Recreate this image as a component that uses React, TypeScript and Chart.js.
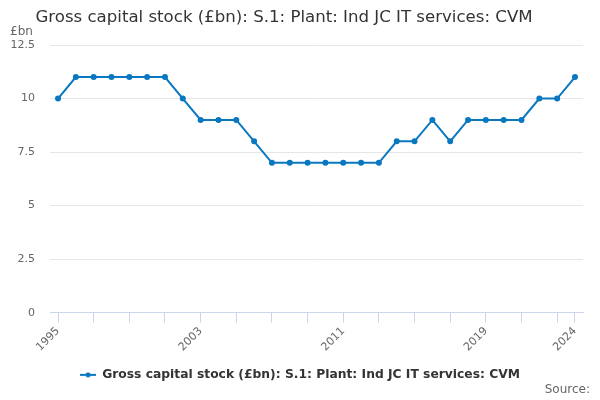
import React, { useEffect, useRef } from 'react';
import { Chart, registerables, Plugin } from 'chart.js';

Chart.register(...registerables);

// Datos del gráfico
const years = [
  1995, 1996, 1997, 1998, 1999, 2000, 2001, 2002, 2003, 2004,
  2005, 2006, 2007, 2008, 2009, 2010, 2011, 2012, 2013, 2014,
  2015, 2016, 2017, 2018, 2019, 2020, 2021, 2022, 2023, 2024,
];
const stockValues = [
  10, 11, 11, 11, 11, 11, 11, 10, 9, 9,
  9, 8, 7, 7, 7, 7, 7, 7, 7, 8,
  8, 9, 8, 9, 9, 9, 9, 10, 10, 11,
];
const tickYears = [1995, 1997, 1999, 2001, 2003, 2005, 2007, 2009, 2011, 2013, 2015, 2017, 2019, 2021, 2023, 2024];
const labelYears = [1995, 2003, 2011, 2019, 2024];
const yTicks = [0, 2.5, 5, 7.5, 10, 12.5];

const seriesName = 'Gross capital stock (£bn): S.1: Plant: Ind JC IT services: CVM';
const titleText = 'Gross capital stock (£bn): S.1: Plant: Ind JC IT services: CVM';
const FONT = '"DejaVu Sans", Verdana, sans-serif';
const LINE_COLOR = '#0a78c0';

// Símbolo de la leyenda: línea con un punto
function legendSymbol(): HTMLCanvasElement {
  const c = document.createElement('canvas');
  c.width = 16;
  c.height = 6;
  const ctx = c.getContext('2d')!;
  ctx.strokeStyle = LINE_COLOR;
  ctx.lineWidth = 2;
  ctx.beginPath();
  ctx.moveTo(0, 3);
  ctx.lineTo(16, 3);
  ctx.stroke();
  ctx.fillStyle = LINE_COLOR;
  ctx.beginPath();
  ctx.arc(8, 3, 2.5, 0, Math.PI * 2);
  ctx.fill();
  return c;
}

const textPlugin: Plugin = {
  id: 'texts',
  afterDraw(chart) {
    const ctx = chart.ctx;
    ctx.save();
    ctx.textBaseline = 'middle';
    ctx.fillStyle = '#333333';
    ctx.font = `16.6px ${FONT}`;
    ctx.textAlign = 'center';
    ctx.fillText(titleText, 284, 18);
    ctx.fillStyle = '#666666';
    ctx.font = `12px ${FONT}`;
    ctx.textAlign = 'left';
    ctx.fillText('£bn', 10, 32);
    ctx.textAlign = 'right';
    ctx.fillText('Source:', 590, 390);
    ctx.restore();
  },
};

const App: React.FC = () => {
  const canvasRef = useRef<HTMLCanvasElement>(null);

  useEffect(() => {
    document.body.style.margin = '0';
    if (!canvasRef.current) return;
    const chart = new Chart(canvasRef.current, {
      type: 'line',
      data: {
        datasets: [
          {
            label: seriesName,
            data: years.map((y, i) => ({ x: y, y: stockValues[i] })),
            borderColor: LINE_COLOR,
            backgroundColor: LINE_COLOR,
            borderWidth: 2,
            pointRadius: 2,
            pointHoverRadius: 3,
            pointStyle: 'circle',
            tension: 0,
          },
        ],
      },
      options: {
        animation: false,
        responsive: false,
        maintainAspectRatio: false,
        layout: { padding: { top: 45, left: 0, right: 0, bottom: 9 } },
        plugins: {
          title: { display: false },
          tooltip: { enabled: false },
          legend: {
            display: true,
            position: 'bottom',
            labels: {
              usePointStyle: true,
              pointStyle: legendSymbol(),
              pointStyleWidth: 16,
              color: '#333333',
              font: { family: FONT, size: 12.3, weight: 'bold' },
              padding: 6,
            },
          },
        },
        scales: {
          x: {
            type: 'linear',
            min: 1994.55,
            max: 2024.45,
            afterBuildTicks: (scale) => {
              scale.ticks = tickYears.map((v) => ({ value: v }));
            },
            afterFit: (scale) => {
              scale.height = 50;
            },
            ticks: {
              autoSkip: false,
              minRotation: 45,
              maxRotation: 45,
              color: '#666666',
              font: { family: FONT, size: 11 },
              padding: 2,
              callback: (value) => (labelYears.includes(Number(value)) ? String(value) : ''),
            },
            grid: {
              display: true,
              drawOnChartArea: false,
              drawTicks: true,
              tickLength: 10,
              color: '#ccd6eb',
            },
            border: { display: true, color: '#ccd6eb', width: 1 },
          },
          y: {
            min: 0,
            max: 12.5,
            afterBuildTicks: (scale) => {
              scale.ticks = yTicks.map((v) => ({ value: v }));
            },
            afterFit: (scale) => {
              scale.width = 50;
            },
            ticks: {
              color: '#666666',
              font: { family: FONT, size: 11 },
              padding: 15,
            },
            grid: { color: '#e6e6e6', drawTicks: false },
            border: { display: false },
          },
          // eje vacío a la derecha para dejar el margen
          yRight: {
            position: 'right',
            display: true,
            afterFit: (scale) => {
              scale.width = 17;
            },
            ticks: { display: false },
            grid: { drawOnChartArea: false, drawTicks: false, display: false },
            border: { display: false },
          },
        },
      },
      plugins: [textPlugin],
    });
    return () => chart.destroy();
  }, []);

  return (
    <div style={{ width: 600, height: 400, background: '#ffffff' }}>
      <canvas ref={canvasRef} width={600} height={400} style={{ width: 600, height: 400 }} />
    </div>
  );
};

export default App;
